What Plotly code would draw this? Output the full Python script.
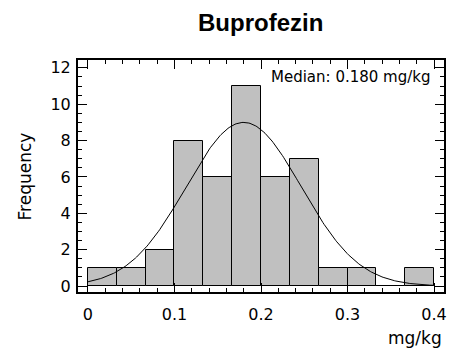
import numpy as np
import plotly.graph_objects as go

bin_edges = [0.0, 1/30, 2/30, 3/30, 4/30, 5/30, 6/30, 7/30, 8/30, 9/30, 10/30, 11/30, 12/30]
counts = [1, 1, 2, 8, 6, 11, 6, 7, 1, 1, 0, 1]
fit_mean = 0.180
fit_sd = 0.0665
title_text = "Buprofezin"
median_label = "Median: 0.180 mg/kg"
x_ticks = [0, 0.1, 0.2, 0.3, 0.4]
x_ticklabels = ["0", "0.1", "0.2", "0.3", "0.4"]
y_ticks = [0, 2, 4, 6, 8, 10, 12]

centers = [(bin_edges[i] + bin_edges[i + 1]) / 2 for i in range(len(counts))]
widths = [bin_edges[i + 1] - bin_edges[i] for i in range(len(counts))]
n = sum(counts)
bw = widths[0]
xc = np.linspace(bin_edges[0], bin_edges[-1], 300)
yc = n * bw / (fit_sd * np.sqrt(2 * np.pi)) * np.exp(-0.5 * ((xc - fit_mean) / fit_sd) ** 2)

FONT = "DejaVu Sans"
fig = go.Figure()
fig.add_trace(go.Bar(x=centers, y=counts, width=widths,
                     marker=dict(color="#c0c0c0", line=dict(color="black", width=1)),
                     showlegend=False, hoverinfo="skip"))
fig.add_trace(go.Scatter(x=xc, y=yc, mode="lines", line=dict(color="black", width=1),
                         showlegend=False, hoverinfo="skip"))

axis_common = dict(showgrid=False, zeroline=False, showline=True, linecolor="black",
                   linewidth=2, mirror="allticks", ticks="inside", tickcolor="black",
                   tickwidth=1, ticklen=9, tickfont=dict(family=FONT, size=16, color="black"))
fig.update_xaxes(range=[-0.0115, 0.4115], tickvals=x_ticks, ticktext=x_ticklabels,
                 minor=dict(dtick=0.02, ticks="inside", ticklen=4, tickcolor="black", tickwidth=1, tick0=0),
                 ticklabelstandoff=7, **axis_common)
fig.update_yaxes(range=[-0.33, 12.43], tickvals=y_ticks,
                 minor=dict(dtick=0.5, ticks="inside", ticklen=4, tickcolor="black", tickwidth=1, tick0=0),
                 ticklabelstandoff=2, **axis_common)

PW = 457 - 78 - 10
PH = 356 - 60 - 64
fig.update_layout(
    width=457, height=356, margin=dict(l=78, r=10, t=60, b=64),
    paper_bgcolor="white", plot_bgcolor="white", bargap=0,
    font=dict(family=FONT, color="black"),
    annotations=[
        dict(text="<b>" + title_text + "</b>", x=(262 - 78) / PW, y=1 + (60 - 23) / PH,
             xref="paper", yref="paper", yanchor="middle",
             showarrow=False, font=dict(family="Liberation Sans", size=24)),
        dict(text=median_label, x=(436 - 78) / PW, y=1 - (77 - 60) / PH, xref="paper", yref="paper",
             xanchor="right", yanchor="middle", showarrow=False, font=dict(family=FONT, size=15)),
        dict(text="Frequency", x=(25 - 78) / PW, y=0.5, xref="paper", yref="paper", textangle=-90,
             xanchor="center", yanchor="middle",
             showarrow=False, font=dict(family=FONT, size=17)),
        dict(text="mg/kg", x=(447 - 78) / PW, y=-(338 - 292) / PH, xref="paper", yref="paper",
             xanchor="right", yanchor="middle", showarrow=False, font=dict(family=FONT, size=17)),
    ],
)
fig.write_html("out.html")
